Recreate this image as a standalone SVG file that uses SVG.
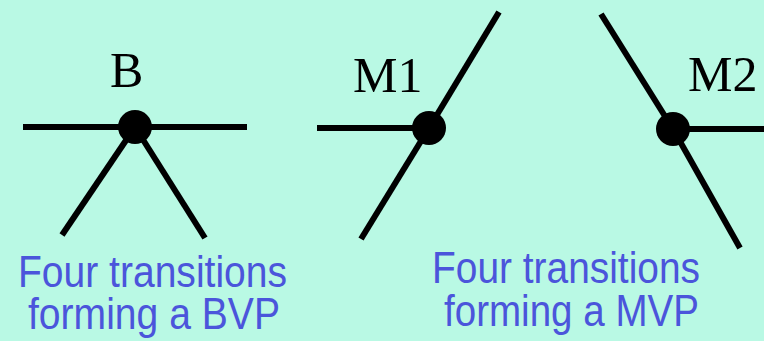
<svg xmlns="http://www.w3.org/2000/svg" width="764" height="341" viewBox="0 0 764 341">
<style>
.edge{stroke:#000;stroke-width:6;fill:none;stroke-linecap:butt}
.vertex{fill:#000}
.lbl{font-family:"Liberation Serif","Times New Roman",serif;font-size:50px;fill:#000}
.cap{font-family:"Liberation Sans",Arial,sans-serif;font-size:45px;fill:#4B55DB}
</style>
<rect x="0" y="0" width="764" height="341" fill="#B9F9E4"/>
<g id="connectors">
<line class="edge" x1="23" y1="127" x2="247" y2="127"/>
<line class="edge" x1="135" y1="127" x2="62" y2="235"/>
<line class="edge" x1="135" y1="127" x2="205" y2="238"/>
<line class="edge" x1="317" y1="128" x2="429" y2="128"/>
<line class="edge" x1="429" y1="128" x2="499" y2="12"/>
<line class="edge" x1="429" y1="128" x2="361" y2="239"/>
<line class="edge" x1="673" y1="129" x2="764" y2="129"/>
<line class="edge" x1="673" y1="129" x2="601" y2="14"/>
<line class="edge" x1="673" y1="129" x2="740" y2="248"/>
</g>
<g id="node-B">
<circle class="vertex" cx="135" cy="127" r="17"/>
<text class="lbl" x="110" y="87">B</text>
</g>
<g id="node-M1">
<circle class="vertex" cx="429" cy="128" r="17"/>
<text class="lbl" x="353" y="92">M1</text>
</g>
<g id="node-M2">
<circle class="vertex" cx="673" cy="129" r="17"/>
<text class="lbl" x="688" y="91">M2</text>
</g>
<g id="caption-BVP">
<text class="cap" x="18" y="287" textLength="269" lengthAdjust="spacingAndGlyphs">Four transitions</text>
<text class="cap" x="28" y="329" textLength="252" lengthAdjust="spacingAndGlyphs">forming a BVP</text>
</g>
<g id="caption-MVP">
<text class="cap" x="432" y="283" textLength="268" lengthAdjust="spacingAndGlyphs">Four transitions</text>
<text class="cap" x="444" y="326" textLength="255" lengthAdjust="spacingAndGlyphs">forming a MVP</text>
</g>
</svg>
